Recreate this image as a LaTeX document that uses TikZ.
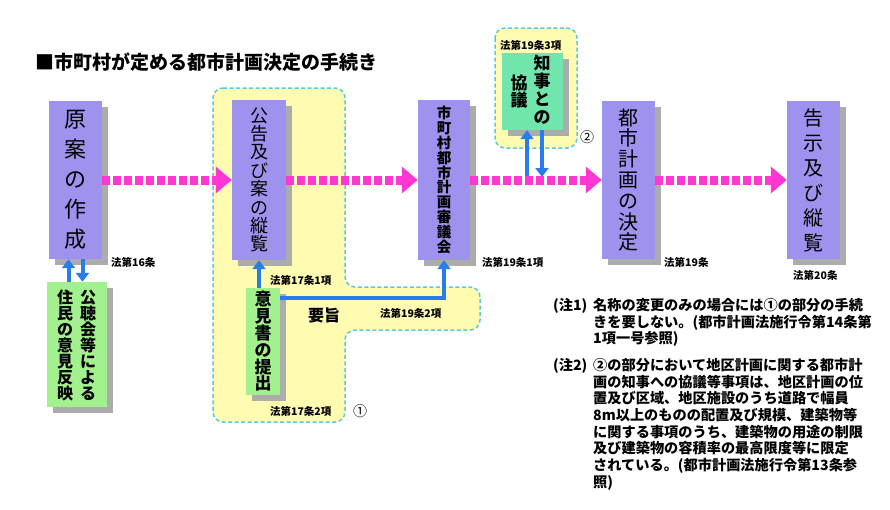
\documentclass[tikz,border=0pt]{standalone}
\usepackage{fontspec}
\newfontfamily\jp{Noto Sans CJK JP}
\usetikzlibrary{arrows.meta, shadows, positioning}
\definecolor{stagefill}{RGB}{157,147,238}
\definecolor{inputfill}{RGB}{162,240,142}
\definecolor{kyogifill}{RGB}{112,230,172}
\definecolor{regionfill}{RGB}{255,252,178}
\definecolor{regionline}{RGB}{90,200,225}
\definecolor{flowpink}{RGB}{255,55,210}
\definecolor{linkblue}{RGB}{40,125,235}

\begin{document}
\begin{tikzpicture}[x=1pt, y=-1pt]
  % --- STYLE DEFINITIONS ---
  \tikzstyle{boxshadow}=[drop shadow={shadow xshift=6pt, shadow yshift=-6pt, fill=gray!65, opacity=1}]
  \tikzstyle{stagebox}=[rectangle, fill=stagefill, inner sep=0pt, minimum width=53pt, minimum height=158pt, align=center, boxshadow]
  \tikzstyle{inputbox}=[rectangle, fill=inputfill, inner sep=0pt, boxshadow]
  \tikzstyle{kyogibox}=[rectangle, fill=kyogifill, inner sep=0pt, boxshadow]
  \tikzstyle{column}=[inner sep=0pt, align=center]
  \tikzstyle{region}=[fill=regionfill, draw=regionline, line width=1.5pt, dash pattern=on 4pt off 2.5pt, rounded corners=10pt]
  \tikzstyle{flow}=[draw=flowpink, line width=9pt, dash pattern=on 8pt off 3pt, -{Triangle[length=16pt, width=26pt]}]
  \tikzstyle{link}=[draw=linkblue, line width=4pt, -{Triangle[length=9pt, width=13pt]}]
  \tikzstyle{lawlabel}=[inner sep=0pt, font=\jp\bfseries\fontsize{10.5}{12}\selectfont]

  \useasboundingbox (0,0) rectangle (890,509);

  % --- TITLE ---
  \node[inner sep=0pt, anchor=west, font=\jp\bfseries\fontsize{19}{22}\selectfont] (title) at (35,62) {■市町村が定める都市計画決定の手続き};

  % --- DASHED REGIONS (1) AND (2) ---
  \draw[region] (213,88) -- (345,88) -- (345,287) -- (480,287) -- (480,330) -- (345,330) -- (345,422) -- (213,422) -- cycle;
  \draw[region] (495,28) rectangle (577,148);

  % --- MAIN STAGES ---
  \node[stagebox, font=\jp\fontsize{22}{30}\selectfont] (b1) at (75.5,180) {原\\案\\の\\作\\成};
  \node[stagebox, minimum width=54pt, minimum height=160pt, font=\jp\fontsize{18}{18.4}\selectfont] (b2) at (259,180) {公\\告\\及\\び\\案\\の\\縦\\覧};
  \node[stagebox, minimum width=52pt, minimum height=160pt, font=\jp\bfseries\fontsize{14.5}{14.9}\selectfont] (b3) at (444,180) {市\\町\\村\\都\\市\\計\\画\\審\\議\\会};
  \node[stagebox, font=\jp\fontsize{20}{20.8}\selectfont] (b5) at (628.5,180) {都\\市\\計\\画\\の\\決\\定};
  \node[stagebox, font=\jp\fontsize{20}{25}\selectfont] (b6) at (813.5,180) {告\\示\\及\\び\\縦\\覧};

  % --- SIDE BOXES ---
  \node[inputbox, minimum width=60pt, minimum height=125pt] (g1) at (77,344.5) {};
  \node[column, font=\jp\bfseries\fontsize{16}{16}\selectfont] (g1r) at (88,345) {公\\聴\\会\\等\\に\\よ\\る};
  \node[column, font=\jp\bfseries\fontsize{16}{16}\selectfont] (g1l) at (65,345) {住\\民\\の\\意\\見\\反\\映};

  \node[inputbox, minimum width=34pt, minimum height=107pt, align=center, font=\jp\bfseries\fontsize{17}{16.8}\selectfont] (g2) at (263,341.5) {意\\見\\書\\の\\提\\出};

  \node[kyogibox, minimum width=61pt, minimum height=77pt] (k) at (532.5,91.5) {};
  \node[column, font=\jp\bfseries\fontsize{17}{18}\selectfont] (kr) at (542,90) {知\\事\\と\\の};
  \node[column, font=\jp\bfseries\fontsize{17}{17}\selectfont] (kl) at (519,91.5) {協\\議};

  % --- BLUE CONNECTORS ---
  \coordinate (kj) at (534.5,177);
  \draw[link] ([xshift=-7pt]b1.south |- g1.north) -- ([xshift=-7pt]b1.south);
  \draw[link] ([xshift=7pt]b1.south) -- ([xshift=7pt]b1.south |- g1.north);
  \draw[link] (b2.south |- g2.north) -- (b2.south);
  \draw[link] ([yshift=-10pt]g2.north east) -| (b3.south);
  \draw[link] ([xshift=-7.5pt]kj) -- ([xshift=-7.5pt]kj |- k.south);
  \draw[link] ([xshift=7.5pt]kj |- k.south) -- ([xshift=7.5pt]kj);

  % --- MAIN FLOW ---
  \draw[flow] (b1) -- (b2);
  \draw[flow] (b2) -- (b3);
  \draw[flow] (b3) -- (b5);
  \draw[flow] (b5) -- (b6);

  % --- LAW LABELS ---
  \node[lawlabel, anchor=west] (l16) at (111,262) {法第16条};
  \node[lawlabel, anchor=west] (l171) at (270,280) {法第17条1項};
  \node[lawlabel, anchor=west] (l172) at (270,411) {法第17条2項};
  \node[lawlabel, anchor=west] (l192) at (380,313) {法第19条2項};
  \node[lawlabel, anchor=west] (l191) at (482,262) {法第19条1項};
  \node[lawlabel, anchor=west] (l193) at (500,45) {法第19条3項};
  \node[lawlabel, anchor=west] (l19) at (664,262) {法第19条};
  \node[lawlabel, anchor=west] (l20) at (793,275) {法第20条};
  \node[inner sep=0pt, anchor=west, font=\jp\bfseries\fontsize{16}{18}\selectfont] (yoshi) at (308,315) {要旨};
  \node[inner sep=0pt, font=\jp\fontsize{14}{15}\selectfont] (m1) at (360,411) {①};
  \node[inner sep=0pt, font=\jp\fontsize{14}{15}\selectfont] (m2) at (587,137) {②};

  % --- NOTES ---
  \node[inner sep=0pt, anchor=north west, font=\jp\bfseries\fontsize{14.2}{16.7}\selectfont] (n1) at (553,298) {(注1)};
  \node[inner sep=0pt, anchor=north west, align=left, font=\jp\bfseries\fontsize{14.2}{16.7}\selectfont] (t1) at (593,298)
    {名称の変更のみの場合には①の部分の手続\\きを要しない。(都市計画法施行令第14条第\\1項一号参照)};
  \node[inner sep=0pt, anchor=north west, font=\jp\bfseries\fontsize{14.2}{16.7}\selectfont] (n2) at (553,358) {(注2)};
  \node[inner sep=0pt, anchor=north west, align=left, font=\jp\bfseries\fontsize{14.2}{16.7}\selectfont] (t2) at (593,358)
    {②の部分において地区計画に関する都市計\\画の知事への協議等事項は、地区計画の位\\置及び区域、地区施設のうち道路で幅員\\8m以上のものの配置及び規模、建築物等\\に関する事項のうち、建築物の用途の制限\\及び建築物の容積率の最高限度等に限定\\されている。(都市計画法施行令第13条参\\照)};
\end{tikzpicture}
\end{document}
